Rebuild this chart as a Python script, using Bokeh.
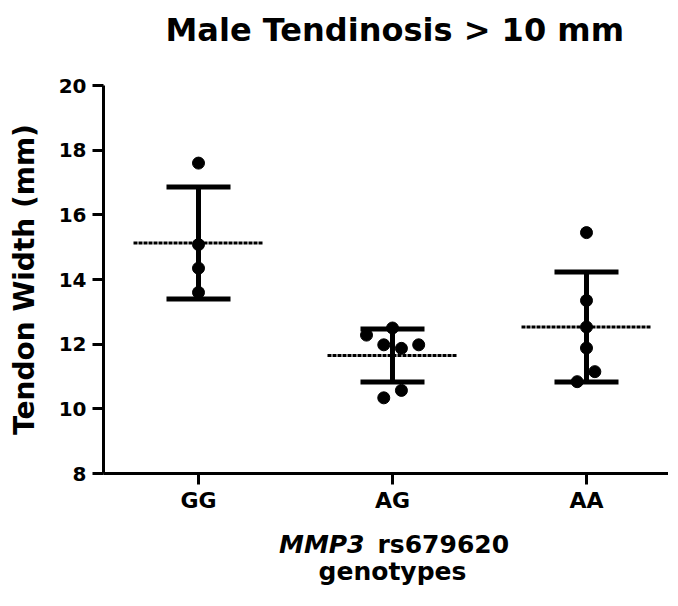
from bokeh.plotting import figure
from bokeh.models import Range1d, FixedTicker, Label, Title
from bokeh.embed import file_html
from bokeh.resources import INLINE

# ---- data ----
categories = ["GG", "AG", "AA"]
gg_values = [17.6, 15.08, 14.35, 13.6]
gg_jitter = [0.0, 0.0, 0.0, 0.0]
ag_values = [12.28, 12.5, 11.98, 11.87, 11.98, 10.57, 10.34]
ag_jitter = [-0.134, 0.0, -0.045, 0.046, 0.135, 0.046, -0.045]
aa_values = [15.45, 13.35, 12.53, 11.88, 11.15, 10.84]
aa_jitter = [0.0, 0.0, 0.0, 0.0, 0.043, -0.048]
means = [15.13, 11.65, 12.53]
sds = [1.73, 0.82, 1.70]
y_ticks = [8, 10, 12, 14, 16, 18, 20]

FONT = "DejaVu Sans"
positions = [i + 1 for i in range(len(categories))]

p = figure(width=668, height=590, output_backend="svg", toolbar_location=None,
           x_range=Range1d(0.5103, 3.4227), y_range=Range1d(y_ticks[0], y_ticks[-1]),
           min_border_left=103, min_border_right=0, min_border_top=85, min_border_bottom=117,
           title=None)
p.outline_line_color = None
p.grid.visible = False
p.background_fill_color = "white"
p.border_fill_color = "white"

for ax in (p.xaxis[0], p.yaxis[0]):
    ax.axis_line_width = 3
    ax.axis_line_color = "black"
    ax.major_tick_line_width = 3
    ax.major_tick_line_color = "black"
    ax.major_tick_out = 11
    ax.major_tick_in = 0
    ax.minor_tick_line_color = None
    ax.major_label_text_font = FONT
    ax.major_label_text_font_style = "bold"
    ax.major_label_text_color = "black"
    ax.axis_label_text_font = FONT
    ax.axis_label_text_font_style = "bold"
    ax.axis_label_text_color = "black"

p.yaxis.ticker = FixedTicker(ticks=y_ticks)
p.yaxis.major_label_text_font_size = "20px"
p.yaxis.major_label_standoff = 6
p.yaxis.axis_label = "Tendon Width (mm)"
p.yaxis.axis_label_text_font_size = "28px"
p.yaxis.axis_label_standoff = 15

p.xaxis.ticker = FixedTicker(ticks=positions)
p.xaxis.major_label_overrides = {pos: cat for pos, cat in zip(positions, categories)}
p.xaxis.major_label_text_font_size = "22px"
p.xaxis.major_label_standoff = 3

# mean lines and SD error bars
mean_half = 0.335
cap_half = 0.165
p.segment(x0=[x - mean_half for x in positions], x1=[x + mean_half for x in positions],
          y0=means, y1=means, line_color="black", line_width=3, line_dash="4 1")
lo = [m - s for m, s in zip(means, sds)]
hi = [m + s for m, s in zip(means, sds)]
p.segment(x0=positions, x1=positions, y0=lo, y1=hi, line_color="black", line_width=5)
p.segment(x0=[x - cap_half for x in positions], x1=[x + cap_half for x in positions],
          y0=hi, y1=hi, line_color="black", line_width=5)
p.segment(x0=[x - cap_half for x in positions], x1=[x + cap_half for x in positions],
          y0=lo, y1=lo, line_color="black", line_width=5)

# individual points
for pos, vals, jit in zip(positions, [gg_values, ag_values, aa_values],
                          [gg_jitter, ag_jitter, aa_jitter]):
    p.scatter(x=[pos + j for j in jit], y=vals, size=12, marker="circle",
              fill_color="black", line_color="black")

# x axis label (mixed italic / regular), anchored under the middle category
mid = positions[1]
base = y_ticks[0]
p.add_layout(Label(x=mid, y=base, x_offset=-28, y_offset=-71, text="MMP3",
                   text_align="right", text_baseline="middle",
                   text_font=FONT, text_font_size="25px", text_font_style="bold italic",
                   text_color="black"), "above")
p.add_layout(Title(text="Male Tendinosis > 10 mm", align="left", offset=62, standoff=16,
                   text_font=FONT, text_font_size="32px", text_font_style="bold",
                   text_color="black"), "above")
p.add_layout(Label(x=mid, y=base, x_offset=-15, y_offset=-71, text="rs679620",
                   text_align="left", text_baseline="middle",
                   text_font=FONT, text_font_size="25px", text_font_style="bold",
                   text_color="black"), "below")
p.add_layout(Label(x=mid, y=base, x_offset=0, y_offset=-98, text="genotypes",
                   text_align="center", text_baseline="middle",
                   text_font=FONT, text_font_size="25px", text_font_style="bold",
                   text_color="black"), "below")

open("out.html", "w").write(file_html(p, INLINE))
